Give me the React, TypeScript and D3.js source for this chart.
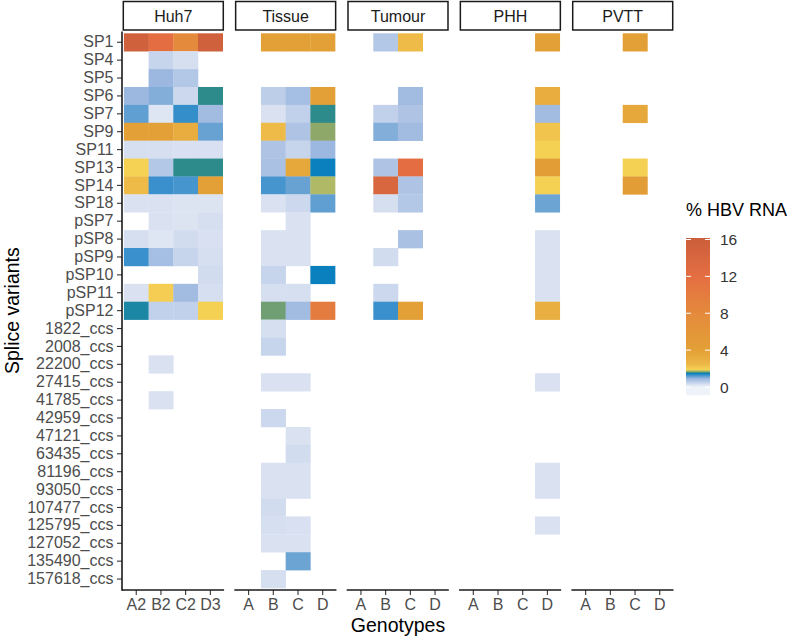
import { useEffect, useRef } from "react";
import * as d3 from "d3";

const variants = [
  "SP1", "SP4", "SP5", "SP6", "SP7", "SP9", "SP11", "SP13", "SP14", "SP18",
  "pSP7", "pSP8", "pSP9", "pSP10", "pSP11", "pSP12",
  "1822_ccs", "2008_ccs", "22200_ccs", "27415_ccs", "41785_ccs", "42959_ccs",
  "47121_ccs", "63435_ccs", "81196_ccs", "93050_ccs", "107477_ccs",
  "125795_ccs", "127052_ccs", "135490_ccs", "157618_ccs",
];

const panels = ["Huh7", "Tissue", "Tumour", "PHH", "PVTT"];
const huh7Genotypes = ["A2", "B2", "C2", "D3"];
const patientGenotypes = ["A", "B", "C", "D"];

const _ = null;

// % HBV RNA per genotype column (null = not detected)
const huh7Values: Record<string, (number | null)[]> = {
  SP1: [15.5, 12, 8, 15.5],
  SP4: [_, 0.45, 0.3, _],
  SP5: [_, 0.9, 0.65, _],
  SP6: [0.9, 1.0, 0.4, 1.55],
  SP7: [1.15, 0.2, 1.32, 0.85],
  SP9: [4, 4, 3.2, 1.12],
  SP11: [0.3, 0.3, 0.28, 0.28],
  SP13: [1.92, 0.65, 1.55, 1.55],
  SP14: [2.4, 1.3, 1.25, 4],
  SP18: [0.25, 0.25, 0.22, 0.22],
  pSP7: [_, 0.25, 0.22, 0.3],
  pSP8: [0.3, 0.2, 0.35, 0.28],
  pSP9: [1.3, 0.8, 0.45, 0.3],
  pSP10: [_, _, _, 0.35],
  pSP11: [0.25, 2.0, 0.85, 0.3],
  pSP12: [1.5, 0.5, 0.5, 1.95],
  "22200_ccs": [_, 0.25, _, _],
  "41785_ccs": [_, 0.25, _, _],
};

const tissueValues: Record<string, (number | null)[]> = {
  SP1: [_, 4, 4, 4],
  SP6: [_, 0.55, 0.8, 4],
  SP7: [_, 0.25, 0.5, 1.55],
  SP9: [_, 2.4, 0.7, 1.65],
  SP11: [_, 0.7, 0.45, 0.9],
  SP13: [_, 0.75, 3.5, 1.45],
  SP14: [_, 1.25, 1.12, 1.75],
  SP18: [_, 0.25, 0.4, 1.15],
  pSP7: [_, _, 0.25, _],
  pSP8: [_, 0.25, 0.25, _],
  pSP9: [_, 0.25, 0.25, _],
  pSP10: [_, 0.45, _, 1.45],
  pSP11: [_, 0.3, 0.3, _],
  pSP12: [_, 1.62, 0.85, 10],
  "1822_ccs": [_, 0.3, _, _],
  "2008_ccs": [_, 0.45, _, _],
  "27415_ccs": [_, 0.25, 0.25, _],
  "42959_ccs": [_, 0.4, _, _],
  "47121_ccs": [_, _, 0.25, _],
  "63435_ccs": [_, _, 0.35, _],
  "81196_ccs": [_, 0.25, 0.25, _],
  "93050_ccs": [_, 0.25, 0.25, _],
  "107477_ccs": [_, 0.35, _, _],
  "125795_ccs": [_, 0.3, 0.28, _],
  "127052_ccs": [_, 0.25, 0.25, _],
  "135490_ccs": [_, _, 1.1, _],
  "157618_ccs": [_, 0.3, _, _],
};

const tumourValues: Record<string, (number | null)[]> = {
  SP1: [_, 0.65, 2.4, _],
  SP6: [_, _, 0.85, _],
  SP7: [_, 0.5, 0.7, _],
  SP9: [_, 1.0, 0.85, _],
  SP13: [_, 0.7, 12, _],
  SP14: [_, 14, 0.7, _],
  SP18: [_, 0.3, 0.65, _],
  pSP8: [_, _, 0.75, _],
  pSP9: [_, 0.35, _, _],
  pSP11: [_, 0.4, _, _],
  pSP12: [_, 1.3, 4, _],
};

const phhValues: Record<string, (number | null)[]> = {
  SP1: [_, _, _, 4],
  SP6: [_, _, _, 3.2],
  SP7: [_, _, _, 0.85],
  SP9: [_, _, _, 2.2],
  SP11: [_, _, _, 1.95],
  SP13: [_, _, _, 4.5],
  SP14: [_, _, _, 1.95],
  SP18: [_, _, _, 1.1],
  pSP8: [_, _, _, 0.25],
  pSP9: [_, _, _, 0.25],
  pSP10: [_, _, _, 0.25],
  pSP11: [_, _, _, 0.25],
  pSP12: [_, _, _, 3],
  "27415_ccs": [_, _, _, 0.25],
  "81196_ccs": [_, _, _, 0.25],
  "93050_ccs": [_, _, _, 0.25],
  "125795_ccs": [_, _, _, 0.25],
};

const pvttValues: Record<string, (number | null)[]> = {
  SP1: [_, _, 4, _],
  SP7: [_, _, 3.5, _],
  SP13: [_, _, 1.95, _],
  SP14: [_, _, 4.5, _],
};

const colourStops = [0, 0.3, 0.6, 0.9, 1.1, 1.3, 1.45, 1.55, 1.65, 1.75, 1.9, 2.5, 4, 8, 12, 16];
const colourRange = [
  "#eef2f9", "#d6dff0", "#b8cae8", "#9cb8e0", "#6ca4d4", "#3a90cc",
  "#0a80bf", "#2e8b8b", "#8ea86a", "#b0ba66", "#f5d254", "#ecb646",
  "#e3a036", "#e48a3c", "#e46e42", "#cc5f3c",
];
const legendTicks = [0, 4, 8, 12, 16];

const FONT = "'Liberation Sans', Arial, Helvetica, sans-serif";

export default function App() {
  const svgRef = useRef<SVGSVGElement>(null);

  useEffect(() => {
    if (!svgRef.current) return;
    const svg = d3.select(svgRef.current);
    svg.selectAll("*").remove();

    const width = 787;
    const height = 638;
    svg.append("rect").attr("width", width).attr("height", height).attr("fill", "white");

    const panelTop = 33.3;
    const panelBottom = 588;
    const axisY = 590;

    const colour = d3
      .scaleLinear<string>()
      .domain(colourStops)
      .range(colourRange)
      .interpolate(d3.interpolateRgb)
      .clamp(true);

    const y = d3.scaleBand().domain(variants).range([panelTop, panelBottom]);

    const panelX = d3
      .scaleBand()
      .domain(panels)
      .range([123.3, 672.7])
      .paddingInner(0.11);

    const panelData = [
      { name: "Huh7", genotypes: huh7Genotypes, values: huh7Values },
      { name: "Tissue", genotypes: patientGenotypes, values: tissueValues },
      { name: "Tumour", genotypes: patientGenotypes, values: tumourValues },
      { name: "PHH", genotypes: patientGenotypes, values: phhValues },
      { name: "PVTT", genotypes: patientGenotypes, values: pvttValues },
    ];

    panelData.forEach((p) => {
      const px = panelX(p.name)!;
      const bw = panelX.bandwidth();
      const x = d3.scaleBand().domain(p.genotypes).range([px + 0.6, px + bw - 0.6]);

      const g = svg.append("g");

      // tiles
      Object.entries(p.values).forEach(([variant, vals]) => {
        vals.forEach((v, i) => {
          if (v == null) return;
          g.append("rect")
            .attr("x", x(p.genotypes[i])!)
            .attr("y", y(variant)!)
            .attr("width", x.bandwidth() + 0.3)
            .attr("height", y.bandwidth() + 0.3)
            .attr("fill", colour(v));
        });
      });

      // strip
      svg.append("rect")
        .attr("x", px)
        .attr("y", 1.5)
        .attr("width", bw)
        .attr("height", 28.5)
        .attr("fill", "white")
        .attr("stroke", "#1a1a1a")
        .attr("stroke-width", 1.5);
      svg.append("text")
        .attr("x", px + bw / 2)
        .attr("y", 16)
        .attr("text-anchor", "middle")
        .attr("dominant-baseline", "central")
        .attr("font-family", FONT)
        .attr("font-size", 16)
        .attr("fill", "#1a1a1a")
        .text(p.name);

      // x axis for the panel
      const xAxis = svg
        .append("g")
        .attr("transform", `translate(0,${axisY})`)
        .call(d3.axisBottom(x).tickSizeOuter(0).tickSize(5).tickPadding(4));
      xAxis.select(".domain").remove();
      xAxis.append("line")
        .attr("x1", px - 1.3)
        .attr("x2", px + bw + 0.8)
        .attr("stroke", "#1a1a1a")
        .attr("stroke-width", 1.6);
      xAxis.selectAll(".tick line").attr("stroke", "#333333").attr("stroke-width", 1.1);
      xAxis.selectAll(".tick text")
        .attr("font-family", FONT)
        .attr("font-size", 16)
        .attr("fill", "#4d4d4d");
    });

    // y axis
    const yAxis = svg
      .append("g")
      .attr("transform", `translate(122,0)`)
      .call(d3.axisLeft(y).tickSizeOuter(0).tickSize(5).tickPadding(3.5));
    yAxis.select(".domain").remove();
    yAxis.append("line")
      .attr("y1", 31.5)
      .attr("y2", axisY + 0.8)
      .attr("stroke", "#1a1a1a")
      .attr("stroke-width", 1.6);
    yAxis.selectAll(".tick line").attr("stroke", "#333333").attr("stroke-width", 1.1);
    yAxis.selectAll(".tick text")
      .attr("font-family", FONT)
      .attr("font-size", 16)
      .attr("fill", "#4d4d4d");

    // axis titles
    svg.append("text")
      .attr("x", (123.3 + 672.7) / 2)
      .attr("y", 632)
      .attr("text-anchor", "middle")
      .attr("font-family", FONT)
      .attr("font-size", 19.5)
      .attr("fill", "#000")
      .text("Genotypes");

    svg.append("text")
      .attr("transform", `translate(19,${(panelTop + panelBottom) / 2}) rotate(-90)`)
      .attr("text-anchor", "middle")
      .attr("font-family", FONT)
      .attr("font-size", 19.5)
      .attr("fill", "#000")
      .text("Splice variants");

    // legend
    const legX = 686;
    const legW = 24;
    const barTop = 238;
    const barBottom = 395;
    const legY = d3.scaleLinear().domain([0, 16]).range([387, 239.5]);

    svg.append("text")
      .attr("x", legX)
      .attr("y", 216)
      .attr("font-family", FONT)
      .attr("font-size", 18)
      .attr("fill", "#000")
      .text("% HBV RNA");

    const legend = svg.append("g");
    for (let py = barTop; py < barBottom; py += 1) {
      const v = Math.max(0, legY.invert(py + 0.5));
      legend.append("rect")
        .attr("x", legX)
        .attr("y", py)
        .attr("width", legW)
        .attr("height", 1.2)
        .attr("fill", colour(v));
    }

    legendTicks.forEach((t) => {
      const ty = legY(t);
      legend.append("line")
        .attr("x1", legX).attr("x2", legX + 5)
        .attr("y1", ty).attr("y2", ty)
        .attr("stroke", "white").attr("stroke-width", 1);
      legend.append("line")
        .attr("x1", legX + legW - 5).attr("x2", legX + legW)
        .attr("y1", ty).attr("y2", ty)
        .attr("stroke", "white").attr("stroke-width", 1);
      legend.append("text")
        .attr("x", 720)
        .attr("y", ty)
        .attr("dominant-baseline", "central")
        .attr("font-family", FONT)
        .attr("font-size", 15.5)
        .attr("fill", "#333333")
        .text(t);
    });
  }, []);

  return (
    <div style={{ position: "absolute", left: 0, top: 0 }}>
      <svg ref={svgRef} width={787} height={638} viewBox="0 0 787 638"></svg>
    </div>
  );
}
